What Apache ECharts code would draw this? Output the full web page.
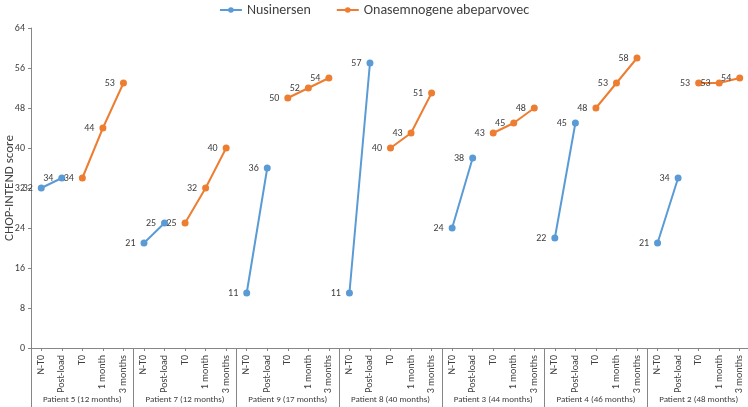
<!DOCTYPE html>
<html>
<head>
<meta charset="utf-8">
<script src="https://cdn.jsdelivr.net/npm/echarts@6/dist/echarts.min.js"></script>
<style>html,body{margin:0;padding:0;background:#fff}#c{width:748px;height:407px}</style>
</head>
<body>
<div id="c"></div>
<script>
const timepoints = ['N-T0', 'Post-load', 'T0', '1 month', '3 months'];
const patients = ['Patient 5 (12 months)', 'Patient 7 (12 months)', 'Patient 9 (17 months)', 'Patient 8 (40 months)', 'Patient 3 (44 months)', 'Patient 4 (46 months)', 'Patient 2 (48 months)'];
const nusinersen = [[32, 34], [21, 25], [11, 36], [11, 57], [24, 38], [22, 45], [21, 34]];
const onasemnogene = [[34, 44, 53], [25, 32, 40], [50, 52, 54], [40, 43, 51], [43, 45, 48], [48, 53, 58], [53, 53, 54]];
const yTicks = { min: 0, max: 64, interval: 8 };

const categories = [];
const nusData = [];
const onaData = [];
patients.forEach((p, i) => {
  timepoints.forEach(t => categories.push(t));
  nusData.push(nusinersen[i][0], nusinersen[i][1], null, null, null);
  onaData.push(null, null, onasemnogene[i][0], onasemnogene[i][1], onasemnogene[i][2]);
});

const font = 'Carlito, Liberation Sans, Arial, sans-serif';
const chart = echarts.init(document.getElementById('c'));
const labelCfg = { show: true, position: 'left', distance: 5, fontSize: 10, color: '#404040', fontFamily: font };
chart.setOption({
  animation: false,
  textStyle: { fontFamily: font },
  legend: {
    top: -2, left: 'center', itemWidth: 22, itemHeight: 7, itemGap: 25,
    textStyle: { fontSize: 14, color: '#404040', fontFamily: font },
    data: ['Nusinersen', 'Onasemnogene abeparvovec']
  },
  grid: { left: 31, top: 28, width: 719, height: 320, containLabel: false, outerBoundsMode: 'none' },
  xAxis: [{
    type: 'category', data: categories, boundaryGap: true, position: 'bottom',
    axisLine: { show: true, lineStyle: { color: '#868686', width: 1 } },
    axisTick: { show: true, alignWithLabel: true, interval: 0, length: 3, lineStyle: { color: '#868686' } },
    axisLabel: { interval: 0, rotate: 90, fontSize: 10, color: '#404040', margin: 7, fontFamily: font }
  }, {
    type: 'category', data: patients, boundaryGap: true, position: 'bottom',
    axisLine: { show: false },
    axisTick: { show: true, interval: 0, length: 60, lineStyle: { color: '#868686' } },
    axisLabel: { interval: 0, fontSize: 9, color: '#404040', margin: 47, fontFamily: font }
  }],
  yAxis: {
    type: 'value', min: yTicks.min, max: yTicks.max, interval: yTicks.interval,
    name: 'CHOP-INTEND score', nameLocation: 'middle', nameGap: 15, nameMoveOverlap: false,
    nameTextStyle: { fontSize: 13, color: '#404040', fontFamily: font },
    axisLine: { show: true, lineStyle: { color: '#868686' } },
    axisTick: { show: true, length: 3, lineStyle: { color: '#868686' } },
    axisLabel: { fontSize: 10, color: '#404040', margin: 6, fontFamily: font },
    splitLine: { show: false }
  },
  series: [{
    name: 'Nusinersen', type: 'line', data: nusData, connectNulls: false,
    symbol: 'circle', symbolSize: 7,
    itemStyle: { color: '#5B9BD5' }, lineStyle: { color: '#5B9BD5', width: 2 },
    label: labelCfg
  }, {
    name: 'Onasemnogene abeparvovec', type: 'line', data: onaData, connectNulls: false,
    symbol: 'circle', symbolSize: 7,
    itemStyle: { color: '#ED7D31' }, lineStyle: { color: '#ED7D31', width: 2 },
    label: labelCfg
  }]
});
</script>
</body>
</html>
